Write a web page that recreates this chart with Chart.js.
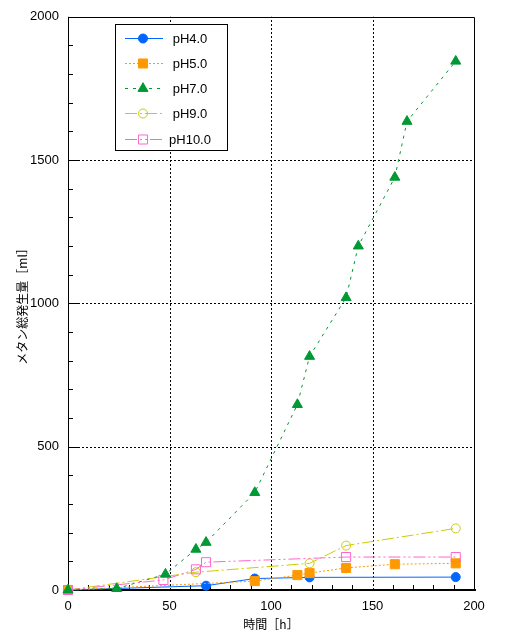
<!DOCTYPE html>
<html>
<head>
<meta charset="utf-8">
<script src="https://cdn.jsdelivr.net/npm/chart.js@4/dist/chart.umd.min.js"></script>
<style>
html,body{margin:0;padding:0;background:#fff;}
#wrap{width:508px;height:640px;position:relative;}
</style>
</head>
<body>
<div id="wrap"><canvas id="c" width="508" height="640"></canvas></div>
<script>
// ---- data ----
const seriesNames = ["pH4.0", "pH5.0", "pH7.0", "pH9.0", "pH10.0"];
const ph4Time = [0, 68, 92, 119, 191];
const ph4Gas  = [0, 15, 40, 44, 45];
const ph5Time = [0, 92, 113, 119, 137, 161, 191];
const ph5Gas  = [0, 31, 52, 59, 77, 90, 93];
const ph7Time = [0, 24, 48, 63, 68, 92, 113, 119, 137, 143, 161, 167, 191];
const ph7Gas  = [0, 5, 55, 142, 166, 340, 647, 815, 1020, 1200, 1440, 1635, 1845];
const ph9Time = [0, 63, 119, 137, 191];
const ph9Gas  = [0, 62, 93, 155, 215];
const ph10Time = [0, 47, 63, 68, 137, 191];
const ph10Gas  = [0, 35, 72, 97, 115, 115];
const xTickLabels = [0, 50, 100, 150, 200];
const yTickLabels = [0, 500, 1000, 1500, 2000];
const xTitle = "時間［h］";
const yTitle = "メタン総発生量［ml］";

function pts(t, v) { return t.map((x, i) => ({x: x, y: v[i]})); }

const FONT = "'Liberation Sans', Arial, sans-serif";

const datasets = [
  {label: seriesNames[0], data: pts(ph4Time, ph4Gas), borderColor: '#0066ff', backgroundColor: '#0066ff',
   pointStyle: 'circle', pointRadius: 4.5, pointBackgroundColor: '#0066ff', pointBorderColor: '#0066ff',
   borderDash: [], order: 5},
  {label: seriesNames[1], data: pts(ph5Time, ph5Gas), borderColor: '#ff9900', backgroundColor: '#ff9900',
   pointStyle: 'rect', pointRadius: 6.4, pointBackgroundColor: '#ff9900', pointBorderColor: '#ff9900',
   borderDash: [2, 2], order: 4},
  {label: seriesNames[2], data: pts(ph7Time, ph7Gas), borderColor: '#009933', backgroundColor: '#009933',
   pointStyle: 'triangle', pointRadius: 5.8, pointBackgroundColor: '#009933', pointBorderColor: '#009933',
   borderDash: [3, 5], order: 1},
  {label: seriesNames[3], data: pts(ph9Time, ph9Gas), borderColor: '#cccc00', backgroundColor: 'rgba(0,0,0,0)',
   pointStyle: 'circle', pointRadius: 4.5, pointBackgroundColor: 'rgba(0,0,0,0)', pointBorderColor: '#cccc00',
   borderDash: [12, 3, 2, 3], order: 3},
  {label: seriesNames[4], data: pts(ph10Time, ph10Gas), borderColor: '#ff66cc', backgroundColor: 'rgba(0,0,0,0)',
   pointStyle: 'rect', pointRadius: 6.4, pointBackgroundColor: 'rgba(0,0,0,0)', pointBorderColor: '#ff66cc',
   borderDash: [12, 3, 2, 3, 2, 3], order: 2}
].map(d => Object.assign({borderWidth: 1, pointBorderWidth: 1, tension: 0, fill: false, clip: false,
   pointHoverRadius: d.pointRadius}, d));

const framePlugin = {
  id: 'frame',
  beforeDatasetsDraw(chart) {
    const ctx = chart.ctx, xs = chart.scales.x, ys = chart.scales.y;
    const L = xs.left, R = xs.right, T = ys.top, B = ys.bottom;
    ctx.save();
    ctx.strokeStyle = '#000'; ctx.lineWidth = 1; ctx.setLineDash([2, 2]);
    xTickLabels.slice(1, -1).forEach(v => {
      const px = Math.round(xs.getPixelForValue(v)) + 0.5;
      ctx.beginPath(); ctx.moveTo(px, B); ctx.lineTo(px, T); ctx.stroke();
    });
    yTickLabels.slice(1, -1).forEach(v => {
      const py = Math.round(ys.getPixelForValue(v)) + 0.5;
      ctx.beginPath(); ctx.moveTo(L + 10, py); ctx.lineTo(R, py); ctx.stroke();
    });
    ctx.setLineDash([]);
    for (let v = 10; v < 200; v += 10) {
      if (v % 50 === 0) continue;
      const px = Math.round(xs.getPixelForValue(v)) + 0.5;
      ctx.beginPath(); ctx.moveTo(px, B); ctx.lineTo(px, B - 5); ctx.stroke();
    }
    for (let v = 100; v < 2000; v += 100) {
      const py = Math.round(ys.getPixelForValue(v)) + 0.5;
      const len = (v % 500 === 0) ? 10 : 5;
      ctx.beginPath(); ctx.moveTo(L, py); ctx.lineTo(L + len, py); ctx.stroke();
    }
    ctx.beginPath(); ctx.moveTo(L, Math.round(T) + 0.5); ctx.lineTo(R + 0.5, Math.round(T) + 0.5);
    ctx.lineTo(Math.round(R) + 0.5, B); ctx.stroke();
    ctx.beginPath(); ctx.moveTo(Math.round(L) + 0.5, T); ctx.lineTo(Math.round(L) + 0.5, B); ctx.stroke();
    ctx.lineWidth = 2;
    ctx.beginPath(); ctx.moveTo(L, Math.round(B)); ctx.lineTo(R + 2, Math.round(B)); ctx.stroke();
    ctx.restore();
  },
  afterDraw(chart) {
    const ctx = chart.ctx;
    ctx.save();
    const bx = 115.5, by = 24.5, bw = 112, bh = 126;
    ctx.fillStyle = '#fff'; ctx.fillRect(bx, by, bw, bh);
    ctx.strokeStyle = '#000'; ctx.lineWidth = 1; ctx.setLineDash([]);
    ctx.strokeRect(bx, by, bw, bh);
    const rows = [38, 63, 88, 113, 139];
    chart.data.datasets.forEach((ds, i) => {
      const y = rows[i] + 0.5;
      ctx.strokeStyle = ds.borderColor; ctx.lineWidth = 1;
      ctx.setLineDash(ds.borderDash);
      ctx.beginPath(); ctx.moveTo(125, y); ctx.lineTo(163, y); ctx.stroke();
      ctx.setLineDash([]);
      ctx.fillStyle = ds.pointBackgroundColor; ctx.strokeStyle = ds.pointBorderColor;
      Chart.helpers.drawPoint(ctx, {pointStyle: ds.pointStyle, radius: ds.pointRadius, rotation: 0, borderWidth: 1}, 143, y);
      ctx.fillStyle = '#000'; ctx.font = '13px ' + FONT; ctx.textAlign = 'center'; ctx.textBaseline = 'middle';
      ctx.fillText(ds.label, 190, rows[i] + 1);
    });
    ctx.restore();
  }
};

new Chart(document.getElementById('c'), {
  type: 'line',
  data: {datasets: datasets},
  plugins: [framePlugin],
  options: {
    responsive: false,
    animation: false,
    events: [],
    layout: {padding: {left: 0, right: 34, top: 16, bottom: 0}},
    plugins: {legend: {display: false}, tooltip: {enabled: false}, title: {display: false}},
    scales: {
      x: {
        type: 'linear', min: 0, max: 200,
        afterBuildTicks(s) { s.ticks = xTickLabels.map(v => ({value: v})); },
        afterFit(s) { s.height = 50; },
        grid: {display: false, drawTicks: false},
        border: {display: false},
        ticks: {color: '#000', font: {family: FONT, size: 13}, padding: 9, maxRotation: 0, autoSkip: false,
                callback: v => String(v)},
        title: {display: true, text: xTitle, color: '#000',
                font: {family: "'Noto Sans CJK JP', sans-serif", size: 12}, padding: {top: 0, bottom: 8}}
      },
      y: {
        type: 'linear', min: 0, max: 2000,
        afterBuildTicks(s) { s.ticks = yTickLabels.map(v => ({value: v})); },
        afterFit(s) { s.width = 68; },
        grid: {display: false, drawTicks: false},
        border: {display: false},
        ticks: {color: '#000', font: {family: FONT, size: 13}, padding: 9, autoSkip: false,
                callback: v => String(v)},
        title: {display: true, text: yTitle, color: '#000',
                font: {family: "'Noto Sans CJK JP', sans-serif", size: 12}, padding: {top: 15, bottom: 0}}
      }
    }
  }
});
</script>
</body>
</html>
